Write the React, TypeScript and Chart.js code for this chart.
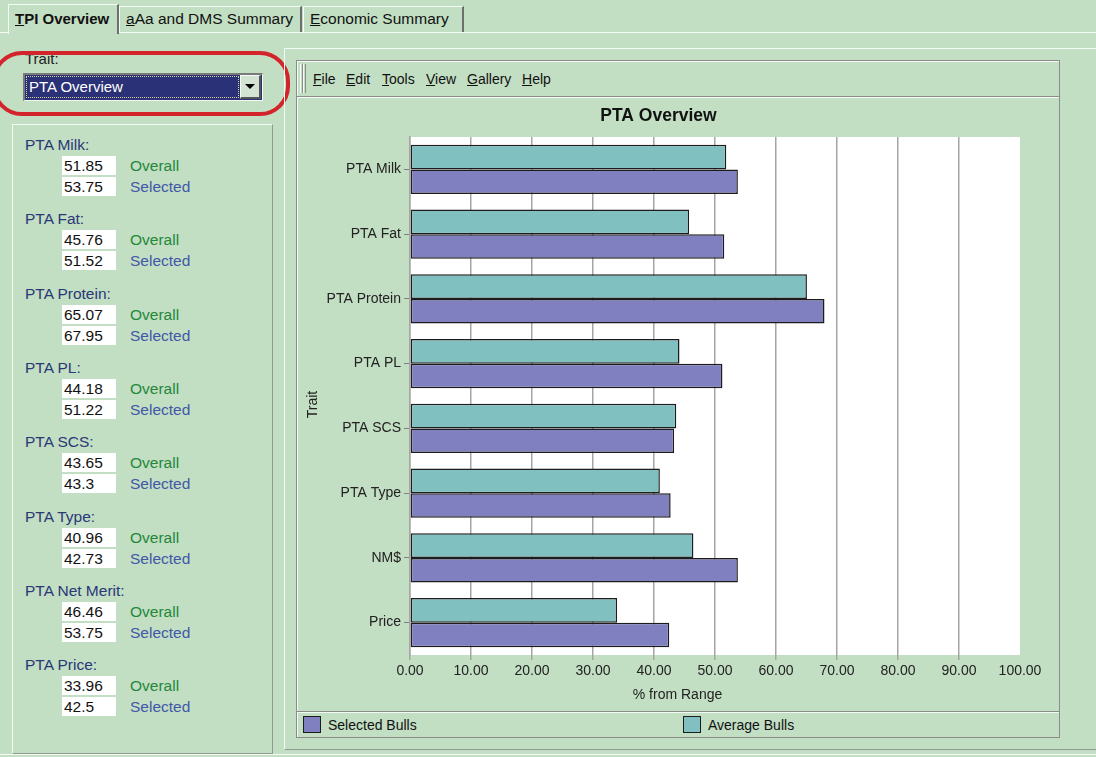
import React, { useEffect, useRef } from "react";
import { Chart, registerables } from "chart.js";

Chart.register(...registerables);

const traits = ["PTA Milk", "PTA Fat", "PTA Protein", "PTA PL", "PTA SCS", "PTA Type", "NM$", "Price"];
const averageBulls = [51.85, 45.76, 65.07, 44.18, 43.65, 40.96, 46.46, 33.96];
const selectedBulls = [53.75, 51.52, 67.95, 51.22, 43.3, 42.73, 53.75, 42.5];
const panelLabels = ["PTA Milk:", "PTA Fat:", "PTA Protein:", "PTA PL:", "PTA SCS:", "PTA Type:", "PTA Net Merit:", "PTA Price:"];
const overallText = ["51.85", "45.76", "65.07", "44.18", "43.65", "40.96", "46.46", "33.96"];
const selectedText = ["53.75", "51.52", "67.95", "51.22", "43.3", "42.73", "53.75", "42.5"];
const tabs = ["TPI Overview", "aAa and DMS Summary", "Economic Summary"];
const menuItems = ["File", "Edit", "Tools", "View", "Gallery", "Help"];
const xAxisTitle = "% from Range";
const yAxisTitle = "Trait";
const xMin = 0;
const xMax = 100;
const xStep = 10;

const FONT = '"Liberation Sans", Arial, sans-serif';
const BG = "#c2dec3";
const TEAL = "#80c0c0";
const PURPLE = "#8080c0";
const LIGHT = "#f4faf4";
const SHADOW = "#8e9a8f";

const plotBg = {
  id: "plotBg",
  beforeDraw(chart: any) {
    const { ctx, chartArea: a } = chart;
    ctx.save();
    ctx.fillStyle = "#ffffff";
    ctx.fillRect(a.left, a.top, a.right - a.left, a.bottom - a.top);
    ctx.restore();
  },
};

// axis titles centred on the whole chart panel, as in the reference
const axisTitles = {
  id: "axisTitles",
  afterDraw(chart: any) {
    const { ctx, width, height } = chart;
    ctx.save();
    ctx.fillStyle = "#222222";
    ctx.font = `14px ${FONT}`;
    ctx.textAlign = "center";
    ctx.textBaseline = "middle";
    ctx.fillText(xAxisTitle, width / 2, 597);
    ctx.translate(16, height / 2);
    ctx.rotate(-Math.PI / 2);
    ctx.fillText(yAxisTitle, 0, 0);
    ctx.restore();
  },
};

function ChartCanvas() {
  const ref = useRef<HTMLCanvasElement | null>(null);
  useEffect(() => {
    if (!ref.current) return;
    const chart = new Chart(ref.current, {
      type: "bar",
      data: {
        labels: traits,
        datasets: [
          {
            label: "Average Bulls",
            data: averageBulls,
            backgroundColor: TEAL,
            borderColor: "#1c1c1c",
            borderWidth: 1.5,
            borderSkipped: false,
            categoryPercentage: 0.76,
            barPercentage: 1,
          },
          {
            label: "Selected Bulls",
            data: selectedBulls,
            backgroundColor: PURPLE,
            borderColor: "#1c1c1c",
            borderWidth: 1.5,
            borderSkipped: false,
            categoryPercentage: 0.76,
            barPercentage: 1,
          },
        ],
      },
      options: {
        indexAxis: "y",
        responsive: false,
        animation: false,
        layout: { padding: { top: 0, right: 38, bottom: 0, left: 0 } },
        plugins: {
          legend: { display: false },
          tooltip: { enabled: false },
          title: {
            display: true,
            text: "PTA Overview",
            color: "#111111",
            font: { family: FONT, size: 17.5, weight: "bold" },
            padding: { top: 8, bottom: 10 },
          },
        },
        scales: {
          x: {
            type: "linear",
            position: "bottom",
            min: xMin,
            max: xMax,
            ticks: {
              stepSize: xStep,
              autoSkip: false,
              maxRotation: 0,
              padding: 3,
              color: "#222222",
              font: { family: FONT, size: 14 },
              callback: (v: any) => Number(v).toFixed(2),
            },
            grid: {
              color: (c: any) => (c.tick && c.tick.value === xMax ? "rgba(0,0,0,0)" : "#a5a5a5"),
              lineWidth: 1.5,
              tickLength: 5,
            },
            border: { display: false },
            title: { display: false },
            afterFit: (s: any) => {
              s.height = 56;
            },
          },
          y: {
            ticks: {
              padding: 3,
              color: "#222222",
              font: { family: FONT, size: 14 },
            },
            grid: {
              display: true,
              drawOnChartArea: false,
              offset: false,
              tickLength: 6,
              color: "#808080",
              lineWidth: 1,
            },
            border: { display: true, color: "#a5a5a5", width: 1.5 },
            title: { display: false },
            afterFit: (s: any) => {
              s.width = 113;
            },
          },
        },
      },
      plugins: [plotBg, axisTitles],
    } as any);
    return () => chart.destroy();
  }, []);
  return (
    <canvas
      ref={ref}
      width={761}
      height={613}
      style={{ position: "absolute", left: 297, top: 98, width: 761, height: 613 }}
    />
  );
}

function U({ t }: { t: string }) {
  return (
    <span>
      <span style={{ textDecoration: "underline" }}>{t[0]}</span>
      {t.slice(1)}
    </span>
  );
}

export default function App() {
  useEffect(() => {
    document.body.style.margin = "0";
  }, []);

  const tabPos = [
    { x: 8, w: 111 },
    { x: 119, w: 183 },
    { x: 303, w: 161 },
  ];
  const menuX = [313, 346, 382, 426, 467, 522];

  return (
    <div
      style={{
        position: "fixed",
        left: 0,
        top: 0,
        width: 1096,
        height: 757,
        overflow: "hidden",
        background: BG,
        fontFamily: FONT,
        color: "#111",
      }}
    >
      {/* tab strip line */}
      <div style={{ position: "absolute", left: 0, top: 32, width: 1096, height: 1, background: LIGHT }} />
      {tabs.map((t, i) => {
        const sel = i === 0;
        const p = tabPos[i];
        return (
          <div
            key={t}
            style={{
              position: "absolute",
              left: p.x,
              top: sel ? 4 : 6,
              width: p.w,
              height: sel ? 30 : 26,
              boxSizing: "border-box",
              background: BG,
              borderTop: `1px solid ${LIGHT}`,
              borderLeft: `1px solid ${LIGHT}`,
              borderRight: "2px solid #6e6e6e",
              fontSize: sel ? 15 : 15.5,
              fontWeight: sel ? "bold" : "normal",
              lineHeight: sel ? "27px" : "23px",
              paddingLeft: 6,
              whiteSpace: "nowrap",
              color: "#111",
            }}
          >
            <U t={t} />
          </div>
        );
      })}

      {/* Trait selector */}
      <div style={{ position: "absolute", left: 25, top: 50, fontSize: 15, lineHeight: "18px", color: "#222" }}>Trait:</div>
      <div
        style={{
          position: "absolute",
          left: 23,
          top: 73,
          width: 240,
          height: 28,
          boxSizing: "border-box",
          borderTop: "2px solid #7a7a7a",
          borderLeft: "2px solid #7a7a7a",
          borderRight: `1px solid ${LIGHT}`,
          borderBottom: `1px solid ${LIGHT}`,
          background: "#2a3176",
        }}
      />
      <div
        style={{
          position: "absolute",
          left: 26,
          top: 76,
          width: 213,
          height: 22,
          boxSizing: "border-box",
          border: "1px dotted #d8d49a",
          color: "#ffffff",
          fontSize: 15,
          lineHeight: "20px",
          paddingLeft: 2,
          whiteSpace: "nowrap",
        }}
      >
        PTA Overview
      </div>
      <div
        style={{
          position: "absolute",
          left: 240,
          top: 75,
          width: 21,
          height: 24,
          boxSizing: "border-box",
          background: "#d4e4d4",
          borderTop: `1px solid ${LIGHT}`,
          borderLeft: `1px solid ${LIGHT}`,
          borderRight: "2px solid #555",
          borderBottom: "2px solid #555",
        }}
      >
        <div
          style={{
            position: "absolute",
            left: 4,
            top: 8,
            width: 0,
            height: 0,
            borderLeft: "5px solid transparent",
            borderRight: "5px solid transparent",
            borderTop: "5px solid #000",
          }}
        />
      </div>
      {/* red highlight */}
      <div
        style={{
          position: "absolute",
          left: -8,
          top: 51,
          width: 298,
          height: 65,
          boxSizing: "border-box",
          border: "4.5px solid #d3232b",
          borderRadius: 30,
        }}
      />

      {/* left panel */}
      <div
        style={{
          position: "absolute",
          left: 12,
          top: 124,
          width: 261,
          height: 630,
          boxSizing: "border-box",
          borderTop: `1px solid ${LIGHT}`,
          borderLeft: `1px solid ${LIGHT}`,
          borderRight: `1px solid ${SHADOW}`,
          borderBottom: `1px solid ${SHADOW}`,
        }}
      />
      {panelLabels.map((lab, i) => {
        const c = 145 + i * 74.3;
        return (
          <React.Fragment key={lab}>
            <div style={{ position: "absolute", left: 25, top: c - 9, fontSize: 15.5, lineHeight: "18px", color: "#2a3877", whiteSpace: "nowrap" }}>
              {lab}
            </div>
            {[overallText[i], selectedText[i]].map((v, k) => (
              <div
                key={k}
                style={{
                  position: "absolute",
                  left: 62,
                  top: c + 21 * (k + 1) - 10,
                  width: 54,
                  height: 19,
                  background: "#ffffff",
                  fontSize: 15.5,
                  lineHeight: "19px",
                  paddingLeft: 2,
                  boxSizing: "border-box",
                  color: "#111",
                }}
              >
                {v}
              </div>
            ))}
            <div style={{ position: "absolute", left: 130, top: c + 21 - 9, fontSize: 15.5, lineHeight: "18px", color: "#23883a" }}>Overall</div>
            <div style={{ position: "absolute", left: 130, top: c + 42 - 9, fontSize: 15.5, lineHeight: "18px", color: "#4257a8" }}>Selected</div>
          </React.Fragment>
        );
      })}

      {/* right panel */}
      <div
        style={{
          position: "absolute",
          left: 284,
          top: 48,
          width: 830,
          height: 702,
          boxSizing: "border-box",
          borderTop: `1px solid ${LIGHT}`,
          borderLeft: `1px solid ${LIGHT}`,
          borderBottom: `1px solid ${SHADOW}`,
        }}
      />
      <div style={{ position: "absolute", left: 0, top: 754, width: 1096, height: 1, background: LIGHT }} />

      {/* chart frame */}
      <div
        style={{
          position: "absolute",
          left: 296,
          top: 60,
          width: 764,
          height: 678,
          boxSizing: "border-box",
          border: "1px solid #8b8b8b",
          boxShadow: `inset 1px 1px 0 ${LIGHT}`,
        }}
      />
      {/* menu bar */}
      <div style={{ position: "absolute", left: 297, top: 96, width: 762, height: 1, background: "#8b8b8b" }} />
      <div style={{ position: "absolute", left: 297, top: 97, width: 762, height: 1, background: LIGHT }} />
      {[300, 303].map((gx) => (
        <div
          key={gx}
          style={{
            position: "absolute",
            left: gx,
            top: 64,
            width: 3,
            height: 29,
            boxSizing: "border-box",
            borderLeft: `1px solid ${LIGHT}`,
            borderRight: "1px solid #8b8b8b",
          }}
        />
      ))}
      {menuItems.map((m, i) => (
        <div key={m} style={{ position: "absolute", left: menuX[i], top: 70, fontSize: 14, lineHeight: "18px", color: "#111", whiteSpace: "nowrap" }}>
          <U t={m} />
        </div>
      ))}

      <ChartCanvas />

      {/* legend strip */}
      <div style={{ position: "absolute", left: 297, top: 711, width: 762, height: 1, background: "#8b8b8b" }} />
      <div style={{ position: "absolute", left: 297, top: 712, width: 762, height: 1, background: LIGHT }} />
      {[
        { x: 303, color: PURPLE, label: "Selected Bulls" },
        { x: 683, color: TEAL, label: "Average Bulls" },
      ].map((l) => (
        <React.Fragment key={l.label}>
          <div
            style={{
              position: "absolute",
              left: l.x,
              top: 716,
              width: 18,
              height: 17,
              boxSizing: "border-box",
              border: "1.5px solid #1c1c1c",
              background: l.color,
            }}
          />
          <div style={{ position: "absolute", left: l.x + 25, top: 716, fontSize: 14, lineHeight: "18px", color: "#111", whiteSpace: "nowrap" }}>
            {l.label}
          </div>
        </React.Fragment>
      ))}
    </div>
  );
}
